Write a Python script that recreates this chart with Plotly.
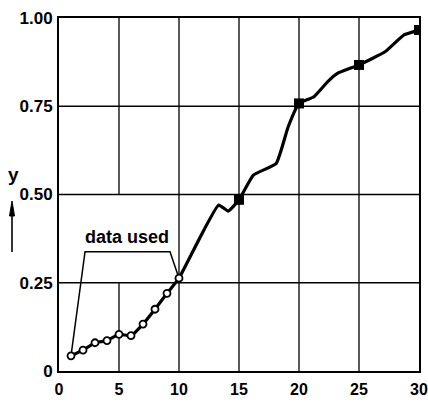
import plotly.graph_objects as go

# Fitted curve through the samples
curve_x = [1, 2, 3, 4, 5, 6, 7, 8, 9, 10, 13.3, 14.1, 15, 16.2, 18.1, 19.1, 20,
           21.25, 22.4, 23.2, 25, 27.2, 28.75, 30]
curve_y = [0.043, 0.059, 0.08, 0.086, 0.104, 0.1, 0.133, 0.175, 0.22, 0.263,
           0.47, 0.453, 0.485, 0.555, 0.588, 0.692, 0.758,
           0.777, 0.82, 0.843, 0.867, 0.905, 0.952, 0.966]

# Samples used for the fit (open circles)
used_x = [1, 2, 3, 4, 5, 6, 7, 8, 9, 10]
used_y = [0.043, 0.059, 0.08, 0.086, 0.104, 0.1, 0.133, 0.175, 0.22, 0.263]

# Check points (filled squares)
check_x = [15, 20, 25, 30]
check_y = [0.485, 0.758, 0.867, 0.966]

# Bracket joining the "data used" label to the first and last sample
bracket_x = [1, 2.17, 9.25, 10]
bracket_y = [0.043, 0.338, 0.338, 0.263]

x_ticks = [0, 5, 10, 15, 20, 25, 30]
y_ticks = [0, 0.25, 0.5, 0.75, 1.0]
y_ticktext = ["0", "0.25", "0.50", "0.75", "1.00"]

FONT = "Liberation Sans, Arial, sans-serif"

W, H = 428, 408
ML, MR, MT, MB = 59, 9, 18, 37
PW, PH = W - ML - MR, H - MT - MB


def px_to_paper(px, py):
    return (px - ML) / PW, (H - MB - py) / PH


fig = go.Figure()

fig.add_trace(go.Scatter(x=bracket_x, y=bracket_y, mode="lines",
                         line=dict(color="black", width=1.5), hoverinfo="skip"))
fig.add_trace(go.Scatter(x=curve_x, y=curve_y, mode="lines",
                         line=dict(color="black", width=3.2, shape="spline", smoothing=0.4)))
fig.add_trace(go.Scatter(x=used_x, y=used_y, mode="markers",
                         marker=dict(symbol="circle", size=7, color="white",
                                     line=dict(color="black", width=1.8))))
fig.add_trace(go.Scatter(x=check_x, y=check_y, mode="markers",
                         marker=dict(symbol="square", size=10, color="black")))

# Grid lines (the x=5 line is interrupted around the label)
shapes = []
for xv in [10, 15, 20, 25]:
    shapes.append(dict(type="line", xref="x", yref="y", x0=xv, x1=xv, y0=0, y1=1,
                       line=dict(color="black", width=1.3), layer="below"))
shapes.append(dict(type="line", xref="x", yref="y", x0=5, x1=5, y0=0, y1=0.25,
                   line=dict(color="black", width=1.3), layer="below"))
shapes.append(dict(type="line", xref="x", yref="y", x0=5, x1=5, y0=0.5, y1=1,
                   line=dict(color="black", width=1.3), layer="below"))
for yv in [0.25, 0.5, 0.75]:
    shapes.append(dict(type="line", xref="x", yref="y", x0=0, x1=30, y0=yv, y1=yv,
                       line=dict(color="black", width=1.3), layer="below"))

# Upward arrow under the y-axis title
ax0, ay0 = px_to_paper(12, 252)
ax1, ay1 = px_to_paper(12, 212)
shapes.append(dict(type="line", xref="paper", yref="paper", x0=ax0, x1=ax1, y0=ay0, y1=ay1,
                   line=dict(color="black", width=1.6)))
hx, hy = px_to_paper(12, 201)
lx, ly = px_to_paper(9.5, 216)
rx, ry = px_to_paper(14.5, 216)
shapes.append(dict(type="path", xref="paper", yref="paper",
                   path=f"M {hx},{hy} L {lx},{ly} L {rx},{ry} Z",
                   fillcolor="black", line=dict(color="black", width=1)))

tx, ty = px_to_paper(13, 174)

fig.update_layout(
    width=W, height=H,
    margin=dict(l=ML, r=MR, t=MT, b=MB, autoexpand=False),
    paper_bgcolor="white", plot_bgcolor="white",
    showlegend=False,
    shapes=shapes,
    font=dict(family=FONT, color="black"),
    xaxis=dict(range=[0, 30], tickvals=x_ticks, showgrid=False, zeroline=False,
               showline=True, mirror=True, linecolor="black", linewidth=2,
               ticks="", ticklabeloverflow="allow", ticklabelstandoff=3,
               automargin=False,
               tickfont=dict(size=16, family=FONT, weight="bold")),
    yaxis=dict(range=[0, 1], tickvals=y_ticks, ticktext=y_ticktext, showgrid=False,
               zeroline=False, showline=True, mirror=True, linecolor="black",
               linewidth=2, ticks="", ticklabelstandoff=1, automargin=False,
               tickfont=dict(size=17, family=FONT, weight="bold")),
    annotations=[
        dict(x=5.67, y=0.38, xref="x", yref="y", text="data used", showarrow=False,
             font=dict(size=18, family=FONT, weight="bold")),
        dict(x=tx, y=ty, xref="paper", yref="paper", text="y", showarrow=False,
             xanchor="center", yanchor="middle",
             font=dict(size=19, family=FONT, weight="bold")),
    ],
)

fig.write_html("out.html")
